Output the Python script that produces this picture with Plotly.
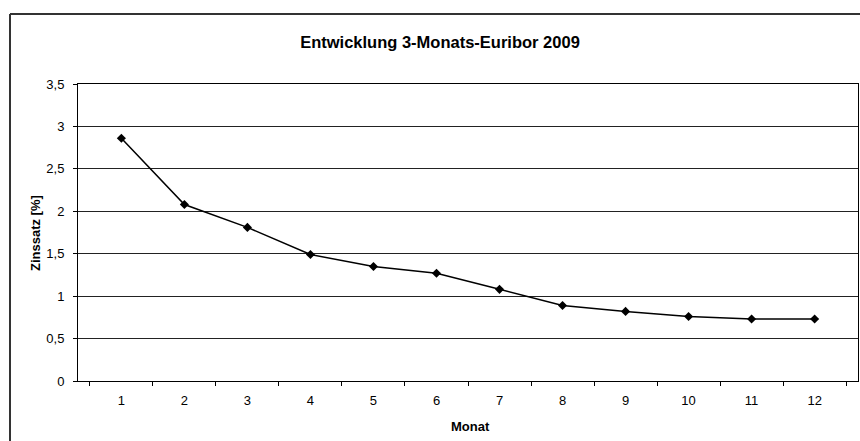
import plotly.graph_objects as go

months = ["1", "2", "3", "4", "5", "6", "7", "8", "9", "10", "11", "12"]
rates = [2.86, 2.08, 1.81, 1.49, 1.35, 1.27, 1.08, 0.89, 0.82, 0.76, 0.73, 0.73]
y_ticks = [0, 0.5, 1, 1.5, 2, 2.5, 3, 3.5]

W, H = 860, 441
L, R, T, B = 78, 2, 84, 60
pw, ph = W - L - R, H - T - B

def px_x(x):
    return (x - L) / pw

def px_y(y):
    return (H - B - y) / ph

fig = go.Figure()
fig.add_trace(go.Scatter(
    x=months, y=rates, mode="lines+markers",
    line=dict(color="black", width=1.5),
    marker=dict(symbol="diamond", size=7, color="black"),
    showlegend=False, hoverinfo="x+y",
))

font = "Liberation Sans, Arial, sans-serif"
fig.update_layout(
    width=W, height=H,
    margin=dict(l=L, r=R, t=T, b=B),
    paper_bgcolor="white", plot_bgcolor="white",
    separators=",.",
    font=dict(family=font, size=13, color="black"),
    xaxis=dict(
        type="category", tickson="boundaries", ticks="outside", ticklen=4,
        tickcolor="black", showgrid=False, showline=True, linecolor="black",
        linewidth=1, mirror=True, tickfont=dict(size=13), zeroline=False,
        ticklabelstandoff=7,
    ),
    yaxis=dict(
        range=[0, 3.5], tickvals=y_ticks, ticks="outside", ticklen=4,
        tickcolor="black", showgrid=True, gridcolor="#222222", gridwidth=1,
        showline=True, linecolor="black", linewidth=1, mirror=True,
        zeroline=False, tickfont=dict(size=13), ticklabelstandoff=6,
    ),
    title=dict(text="<b>Entwicklung 3-Monats-Euribor 2009</b>",
               font=dict(size=16.5, family=font, color="black"),
               xref="container", x=440 / W, xanchor="center",
               yref="container", y=1 - 42 / H, yanchor="middle"),
    annotations=[
        dict(text="<b>Zinssatz [%]</b>", textangle=-90, xref="paper", yref="paper",
             x=px_x(35), y=px_y(233), showarrow=False, font=dict(size=13),
             xanchor="center", yanchor="middle"),
        dict(text="<b>Monat</b>", xref="paper", yref="paper",
             x=px_x(470), y=px_y(426), showarrow=False, font=dict(size=13),
             xanchor="center", yanchor="middle"),
    ],
    shapes=[
        dict(type="line", xref="paper", yref="paper", x0=px_x(10), x1=px_x(862),
             y0=px_y(14), y1=px_y(14), line=dict(color="#333333", width=2)),
        dict(type="line", xref="paper", yref="paper", x0=px_x(10), x1=px_x(10),
             y0=px_y(14), y1=px_y(445), line=dict(color="#333333", width=2)),
    ],
)

fig.write_html("out.html", config={"displayModeBar": False},
               post_script="document.body.style.margin='0';")
